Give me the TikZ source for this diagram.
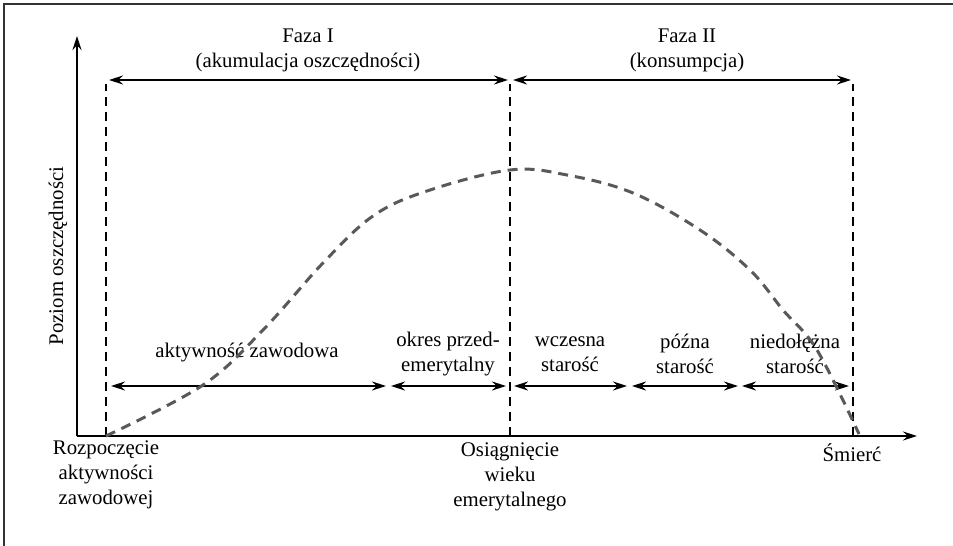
\documentclass[tikz,border=0pt]{standalone}
\usepackage{fontspec}
\setmainfont{LiberationSerif}[Extension=.ttf,UprightFont=*-Regular,BoldFont=*-Bold]
\usetikzlibrary{arrows.meta}

\tikzset{
  grot/.tip={Stealth[length=7pt,width=4.5pt]},
  strzalka/.style={grot-grot,line width=0.6pt},
  podzial/.style={dash pattern=on 4.5pt off 3pt,line width=0.6pt},
  krzywa/.style={dash pattern=on 5pt off 3.5pt,line width=1.5pt,black!65},
  opis/.style={align=center,inner sep=0pt,font=\rmfamily\fontsize{10.4}{12.5}\selectfont}
}

\begin{document}
\begin{tikzpicture}[x=0.5pt,y=0.5pt]
\useasboundingbox (-77,-110) rectangle (876,436);

% Ramka
\draw[line width=0.8pt,black!80]
(-73,-110)
--
(-73,432)
--
(876,432);

% Osie
\coordinate (O) at (0,0);
\coordinate (ykon) at (0,400);
\coordinate (xkon) at (840,0);
\draw[-grot,line width=0.6pt] (O) -- (ykon);
\draw[-grot,line width=0.6pt] (O) -- (xkon);

\node[opis,rotate=90] (poziom) at (-19,180) {Poziom oszczędności};

% Linie podziału
\coordinate (start) at (29,0);
\coordinate (startg) at (29,352);
\coordinate (emer) at (433,0);
\coordinate (emerg) at (433,352);
\coordinate (smierc) at (776,0);
\coordinate (smiercg) at (776,352);
\draw[podzial] (start) -- (startg);
\draw[podzial] (emer) -- (emerg);
\draw[podzial] (smierc) -- (smiercg);

% Fazy
\coordinate (f1l) at (32,356);
\coordinate (f1p) at (431,356);
\coordinate (f2l) at (436,356);
\coordinate (f2p) at (774,356);
\draw[strzalka] (f1l) -- (f1p);
\draw[strzalka] (f2l) -- (f2p);
\node[opis] (faza1) at (231,386) {Faza I\\(akumulacja oszczędności)};
\node[opis] (faza2) at (610,386) {Faza II\\(konsumpcja)};

% Okresy
\coordinate (o1l) at (34,50);
\coordinate (o1p) at (309,50);
\coordinate (o2l) at (314,50);
\coordinate (o2p) at (429,50);
\coordinate (o3l) at (437,50);
\coordinate (o3p) at (550,50);
\coordinate (o4l) at (555,50);
\coordinate (o4p) at (661,50);
\coordinate (o5l) at (665,50);
\coordinate (o5p) at (772,50);
\draw[strzalka] (o1l) -- (o1p);
\draw[strzalka] (o2l) -- (o2p);
\draw[strzalka] (o3l) -- (o3p);
\draw[strzalka] (o4l) -- (o4p);
\draw[strzalka] (o5l) -- (o5p);
\node[opis] (aktyw) at (170,83) {aktywność zawodowa};
\node[opis] (przed) at (371,82) {okres przed-\\emerytalny};
\node[opis] (wczes) at (493,82) {wczesna\\starość};
\node[opis] (pozna) at (608,82) {późna\\starość};
\node[opis] (niedol) at (718,82) {niedołężna\\starość};

% Krzywa oszczędności
\draw[krzywa] plot[smooth,tension=0.6] coordinates {
(29,0) (126,51) (186,106) (246,173) (296,220) (350,245) (433,266)
(490,261) (556,243) (623,206) (673,166) (706,126) (740,86) (782,2)};

% Podpisy osi x
\node[opis] (rozp) at (29,-39) {Rozpoczęcie\\aktywności\\zawodowej};
\node[opis] (osiag) at (433,-41) {Osiągnięcie\\wieku\\emerytalnego};
\node[opis] (koniec) at (775,-17) {Śmierć};

\end{tikzpicture}
\end{document}
